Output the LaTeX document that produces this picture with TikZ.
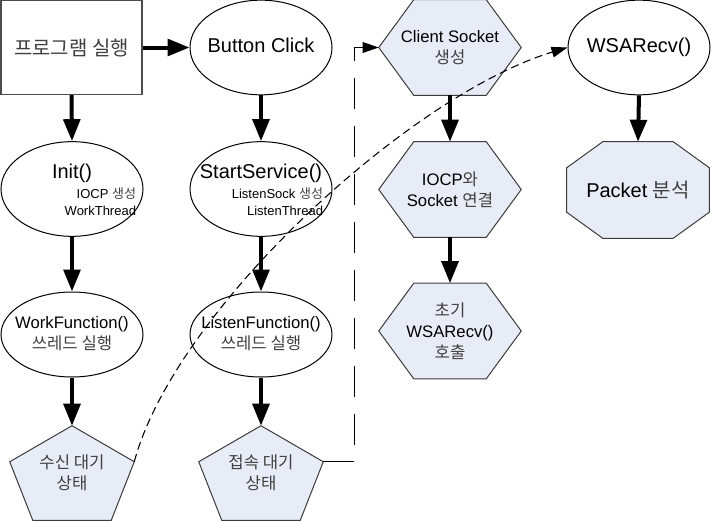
\documentclass[tikz,border=0pt]{standalone}
\usepackage{fontspec}
\setmainfont{Liberation Sans}
\newfontfamily\kr[Color=404040]{Noto Sans CJK KR}
\usetikzlibrary{arrows.meta,backgrounds,calc,shapes.geometric}
\definecolor{polyfill}{RGB}{232,236,246}
\definecolor{polyline}{RGB}{60,60,60}
\newcommand\zc[1]{\makebox[0pt]{\begin{tabular}{@{}c@{}}#1\end{tabular}}}
\newcommand\hexpath[1]{%
  \draw[poly] (#1.west) -- ([xshift=26.25pt]#1.north west) -- ([xshift=-26.25pt]#1.north east)
    -- (#1.east) -- ([xshift=-26.25pt]#1.south east) -- ([xshift=26.25pt]#1.south west) -- cycle;}
\newcommand\octpath[1]{%
  \draw[poly] ([yshift=-19.5pt]#1.north west) -- ([xshift=27pt]#1.north west) -- ([xshift=-27pt]#1.north east)
    -- ([yshift=-19.5pt]#1.north east) -- ([yshift=19.5pt]#1.south east) -- ([xshift=-27pt]#1.south east)
    -- ([xshift=27pt]#1.south west) -- ([yshift=19.5pt]#1.south west) -- cycle;}
\newcommand\pentpath[1]{%
  \draw[poly] (#1.north) -- ([yshift=-27pt]#1.north east) coordinate (#1-r)
    -- ([xshift=-17.25pt]#1.south east) -- ([xshift=17.25pt]#1.south west)
    -- ([yshift=-27pt]#1.north west) coordinate (#1-l) -- cycle;}
\tikzset{
  big/.style={font=\fontsize{15}{18}\selectfont},
  mid/.style={font=\fontsize{12.5}{15.75}\selectfont},
  kmid/.style={font=\kr\fontsize{12.5}{15.75}\selectfont},
  small/.style={font=\fontsize{9.75}{12.75}\selectfont},
  plain/.style={inner sep=0pt, outer sep=0pt},
  rectbox/.style={draw=black!70, line width=1pt, fill=white, minimum width=105.75pt, minimum height=70.5pt, inner sep=0pt},
  ell/.style={draw=black, line width=0.75pt, ellipse, minimum width=106.5pt, minimum height=71pt, inner sep=0pt},
  ell2/.style={ell, minimum height=63.75pt},
  hbox/.style={rectangle, align=center, minimum width=106.5pt, minimum height=71.25pt, inner sep=0pt},
  obox/.style={rectangle, align=center, minimum width=106.5pt, minimum height=72pt, inner sep=0pt},
  pbox/.style={rectangle, align=center, minimum width=93pt, minimum height=70.5pt, inner sep=0pt},
  poly/.style={draw=polyline, line width=0.75pt, fill=polyfill},
  thickarrow/.style={line width=3pt, -{Triangle[length=16.5pt,width=12.5pt]}},
  dcurve/.style={line width=0.8pt, dash pattern=on 6pt off 3.5pt, -{Triangle[length=12pt,width=8pt]}},
  dortho/.style={line width=1pt, dash pattern=on 23pt off 13pt, -{Triangle[length=12pt,width=8pt]}}
}
\begin{document}
\begin{tikzpicture}[x=0.75pt,y=-0.75pt]
\useasboundingbox (0,0) rectangle (711,521);
% nodes
\node[rectbox, big] (prog) at (71.5,47.5) {\kr 프로그램 실행};
\node[ell, big] (btn) at (261,47.5) {\zc{Button Click}};
\node[ell] (init) at (72,189) {};
\node[big, plain] (initT) at (72,173) {Init()};
\node[small, plain, anchor=east, align=right] (initS) at (136,201.5) {IOCP {\kr 생성}\\WorkThread};
\node[ell] (start) at (261,189) {};
\node[big, plain] (startT) at (261,173) {StartService()};
\node[small, plain, anchor=east, align=right] (startS) at (323,201.5) {ListenSock {\kr 생성}\\ListenThread};
\node[ell2, mid] (work) at (72,334.5) {\zc{WorkFunction()\\ \kr 쓰레드 실행}};
\node[ell2, mid] (listen) at (261,334.5) {\zc{ListenFunction()\\ \kr 쓰레드 실행}};
\node[pbox, kmid] (recvwait) at (72,473) {수신 대기\\상태};
\node[pbox, kmid] (connwait) at (261,473) {접속 대기\\상태};
\node[hbox, mid] (cs) at (450,47.5) {Client Socket\\{\kr 생성}};
\node[hbox, mid] (iocp) at (450,189.5) {IOCP{\kr 와}\\Socket {\kr 연결}};
\node[hbox, mid] (init2) at (450,331) {{\kr 초기}\\WSARecv()\\{\kr 호출}};
\node[ell, big] (wsa) at (639,47.5) {\zc{WSARecv()}};
\node[obox, big] (pkt) at (638,190) {Packet {\kr 분석}};
% polygon outlines
\begin{scope}[on background layer]
\hexpath{cs}
\hexpath{iocp}
\hexpath{init2}
\octpath{pkt}
\pentpath{recvwait}
\pentpath{connwait}
\end{scope}
% connectors
\draw[thickarrow] (prog.east) -- (btn.west);
\draw[thickarrow] (prog.south) -- (init.north);
\draw[thickarrow] (btn.south) -- (start.north);
\draw[thickarrow] (init.south) -- (work.north);
\draw[thickarrow] (start.south) -- (listen.north);
\draw[thickarrow] (work.south) -- (recvwait.north);
\draw[thickarrow] (listen.south) -- (connwait.north);
\draw[thickarrow] (cs.south) -- (iocp.north);
\draw[thickarrow] (iocp.south) -- (init2.north);
\draw[thickarrow] (wsa.south) -- (pkt.north);
\draw[dcurve] (recvwait-r) .. controls (175,310) and (410,95) .. (wsa.west);
\draw[dortho] (connwait-r) -- ++(31,0) |- (cs.west);
\end{tikzpicture}
\end{document}
